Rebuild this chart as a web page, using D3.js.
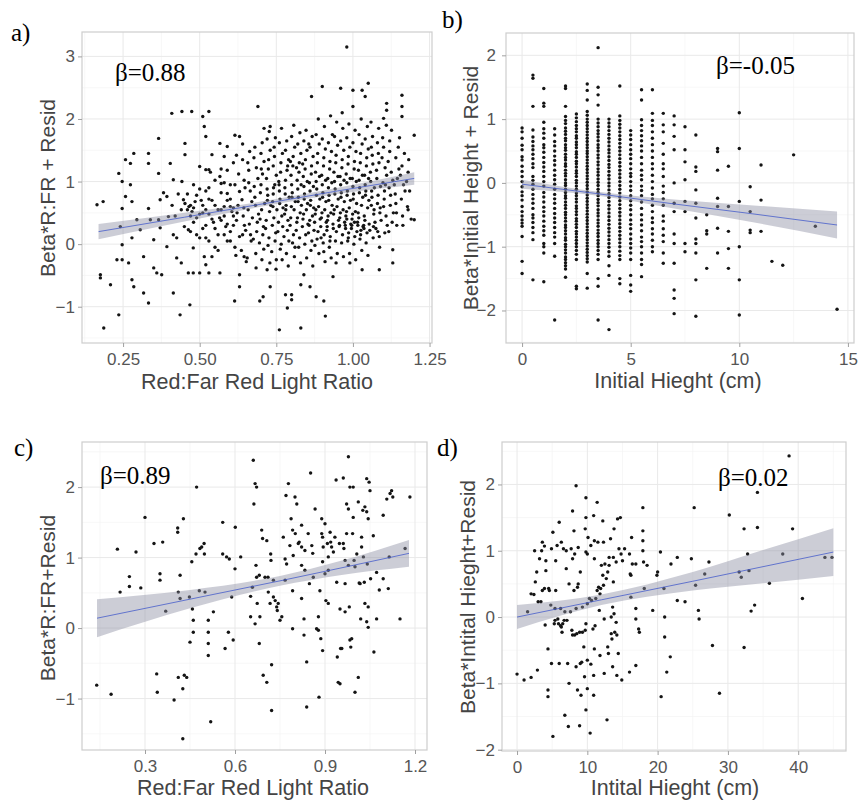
<!DOCTYPE html>
<html>
<head>
<meta charset="utf-8">
<script src="https://cdn.jsdelivr.net/npm/d3@7"></script>
<style>
  body { margin: 0; background: #fff; }
  svg { display: block; }
  .tick text { font-family: Arial, "Liberation Sans", sans-serif; }
</style>
</head>
<body>
<svg id="chart" width="862" height="803"></svg>
<script>
// ---- a) R:FR ratio vs partial residual (values read off the picture)
var aPts = [
  [0.165,0.63],[0.185,0.68],[0.176,-0.49],[0.176,-0.54],[0.209,-0.65],[0.187,-1.34],[0.236,-1.13],[0.23,-0.25],
  [0.247,-0.25],[0.268,-0.3],[0.236,1.13],[0.247,1.0],[0.258,1.35],[0.285,1.45],[0.274,1.29],[0.274,0.95],
  [0.258,0.76],[0.279,0.68],[0.247,0.57],[0.241,0.28],[0.247,-0.01],[0.279,0.1],[0.306,0.23],[0.295,0.39],
  [0.317,-0.2],[0.279,-0.57],[0.285,-0.68],[0.317,-0.78],[0.333,-0.94],[0.35,-0.38],[0.36,-0.46],[0.376,-0.49],
  [0.333,1.45],[0.333,1.29],[0.333,0.57],[0.339,0.39],[0.35,0.07],[0.366,1.69],[0.366,1.13],[0.371,0.71],
  [0.366,0.39],[0.371,0.26],[0.382,0.82],[0.393,0.76],[0.398,0.44],[0.404,1.29],[0.409,2.09],[0.414,0.15],
  [0.393,-0.04],[0.414,-0.78],[0.425,-0.22],[0.436,-1.13],[0.442,2.12],[0.452,1.61],[0.452,1.43],[0.414,1.03],
  [0.442,1.0],[0.447,0.71],[0.452,0.65],[0.463,0.23],[0.468,-0.97],[0.474,2.12],[0.463,-0.46],[0.479,-0.06],
  [0.479,-0.46],[0.5,-0.46],[0.51,2.04],[0.515,1.88],[0.52,1.72],[0.5,1.24],[0.52,1.19],[0.53,1.19],
  [0.53,2.12],[0.515,-0.2],[0.52,-0.33],[0.53,-0.46],[0.566,-0.46],[0.566,1.61],[0.54,1.43],[0.566,1.08],
  [0.57,0.97],[0.58,1.4],[0.59,1.56],[0.59,0.81],[0.6,0.6],[0.615,1.74],[0.63,1.72],[0.614,-0.91],
  [0.63,-0.49],[0.63,-0.68],[0.64,0.15],[0.645,-0.2],[0.69,2.2],[0.696,-0.91],[0.707,-0.84],[0.71,1.85],
  [0.73,1.88],[0.73,-0.68],[0.72,-0.41],[0.75,-0.25],[0.76,-1.37],[0.78,-0.81],[0.786,-1.02],[0.8,-0.81],
  [0.8,-0.89],[0.83,-1.34],[0.83,-0.65],[0.86,-0.68],[0.865,2.36],[0.84,-0.49],[0.88,-0.84],[0.905,-0.91],
  [0.91,-1.15],[0.9,2.52],[0.935,-0.52],[0.96,2.49],[0.98,3.15],[1.0,2.46],[1.03,2.46],[1.05,2.57],
  [1.04,2.36],[0.99,-0.3],[1.03,-0.41],[1.086,-0.41],[1.13,-0.3],[1.13,-0.09],[1.16,2.38],[1.16,2.2],
  [1.16,2.04],[1.2,1.74],[1.18,0.55],[1.2,0.39],[1.1,2.01],[1.11,2.25],[1.11,2.14],
  [0.46,0.55],[0.47,0.62],[0.48,0.35],[0.49,0.78],[0.5,0.48],[0.47,0.2],[0.48,0.95],[0.5,0.1],
  [0.51,0.62],[0.52,0.3],[0.52,0.85],[0.53,0.48],[0.53,0.05],[0.54,0.7],[0.55,0.25],[0.55,1.02],
  [0.56,0.55],[0.56,-0.1],[0.57,0.38],[0.57,0.82],[0.58,0.15],[0.58,0.6],[0.59,1.18],[0.59,0.32],
  [0.6,0.05],[0.6,0.72],[0.61,0.45],[0.61,1.3],[0.48,0.58],[0.49,0.42],[0.5,0.88],[0.51,0.25],
  [0.52,0.55],[0.53,0.72],[0.54,0.4],[0.54,-0.2],[0.55,0.62],[0.56,0.15],[0.57,1.2],[0.58,0.45],
  [0.59,0.7],[0.6,0.2],[0.6,0.95],[0.61,0.58],[0.46,0.8],[0.47,0.45],[0.49,0.15],[0.51,0.5],
  [0.53,0.9],[0.55,-0.05],[0.57,0.55],[0.58,0.98],[0.59,0.05],[0.61,0.3],[0.475,0.52],[0.465,0.6],
  [0.485,0.68],[0.505,0.7],[0.52,0.1],[0.535,1.15],[0.545,0.35],[0.565,0.42],[0.585,0.28],[0.605,0.52],
  [0.44,0.55],[0.45,0.28],[0.43,0.8],[0.42,0.45],[0.41,0.62],[0.44,-0.3],[0.425,0.1],
  [0.62,1.42],[0.615,0.95],[0.625,0.62],[0.62,0.38],[0.63,0.12],[0.618,-0.18],[0.627,1.12],[0.622,0.5],[0.63,0.84],[0.615,-0.05],
  [0.64,1.35],[0.645,1.02],[0.638,0.71],[0.642,0.45],[0.65,0.22],[0.636,-0.1],[0.644,0.58],[0.648,0.9],[0.64,1.6],[0.652,-0.28],[0.646,0.3],
  [0.66,1.18],[0.665,0.85],[0.658,0.55],[0.662,0.32],[0.668,0.05],[0.655,-0.22],[0.663,1.48],[0.67,0.68],[0.66,0.98],[0.672,0.42],[0.657,1.3],[0.666,0.15],
  [0.68,1.55],[0.685,1.22],[0.678,0.92],[0.682,0.62],[0.688,0.35],[0.675,0.08],[0.683,-0.15],[0.69,1.05],[0.68,0.75],[0.692,0.48],[0.677,1.38],[0.686,0.2],[0.684,-0.38],
  [0.7,1.45],[0.705,1.12],[0.698,0.82],[0.702,0.55],[0.708,0.28],[0.695,0.02],[0.703,-0.25],[0.71,1.32],[0.7,0.95],[0.712,0.65],[0.697,0.4],[0.706,0.15],[0.704,1.62],[0.709,-0.08],[0.701,1.2],
  [0.72,1.68],[0.725,1.35],[0.718,1.05],[0.722,0.78],[0.728,0.52],[0.715,0.25],[0.723,-0.02],[0.73,1.5],[0.72,0.88],[0.732,0.62],[0.717,0.38],[0.726,0.1],[0.724,1.2],[0.729,-0.3],[0.721,0.7],[0.727,1.8],
  [0.74,1.25],[0.745,0.95],[0.738,0.68],[0.742,0.42],[0.748,0.18],[0.735,-0.12],[0.743,1.55],[0.75,1.1],[0.74,0.8],[0.752,0.55],[0.737,0.3],[0.746,0.05],[0.744,1.4],[0.749,-0.4],[0.741,0.9],[0.747,1.7],[0.739,0.6],
  [0.76,1.62],[0.765,1.3],[0.758,1.0],[0.762,0.72],[0.768,0.45],[0.755,0.2],[0.763,-0.08],[0.77,1.45],[0.76,0.85],[0.772,0.58],[0.757,0.35],[0.766,0.0],[0.764,1.15],[0.769,-0.25],[0.761,0.65],[0.767,1.85],[0.759,0.95],[0.771,0.28],
  [0.78,1.5],[0.785,1.18],[0.778,0.9],[0.782,0.62],[0.788,0.38],[0.775,0.12],[0.783,-0.15],[0.79,1.35],[0.78,1.02],[0.792,0.75],[0.777,0.48],[0.786,0.22],[0.784,1.65],[0.789,-0.35],[0.781,0.55],[0.787,1.25],[0.779,0.8],[0.791,0.05],
  [0.8,1.72],[0.805,1.4],[0.798,1.1],[0.802,0.82],[0.808,0.55],[0.795,0.3],[0.803,0.02],[0.81,1.55],[0.8,0.95],[0.812,0.68],[0.797,0.42],[0.806,0.15],[0.804,1.25],[0.809,-0.2],[0.801,0.75],[0.807,1.9],[0.799,0.6],[0.811,-0.05],[0.796,1.32],
  [0.82,1.6],[0.825,1.3],[0.818,1.02],[0.822,0.75],[0.828,0.5],[0.815,0.22],[0.823,-0.05],[0.83,1.45],[0.82,0.88],[0.832,0.62],[0.817,0.35],[0.826,0.1],[0.824,1.15],[0.829,-0.3],[0.821,0.68],[0.827,1.78],[0.819,0.42],[0.831,0.95],[0.816,1.22],
  [0.84,1.65],[0.845,1.35],[0.838,1.08],[0.842,0.8],[0.848,0.55],[0.835,0.28],[0.843,0.0],[0.85,1.5],[0.84,0.92],[0.852,0.65],[0.837,0.4],[0.846,0.15],[0.844,1.2],[0.849,-0.22],[0.841,0.72],[0.847,1.82],[0.839,0.48],[0.851,1.0],[0.836,1.28],[0.853,0.32],
  [0.86,1.55],[0.865,1.25],[0.858,0.98],[0.862,0.7],[0.868,0.45],[0.855,0.18],[0.863,-0.1],[0.87,1.4],[0.86,0.85],[0.872,0.58],[0.857,0.3],[0.866,0.05],[0.864,1.12],[0.869,-0.35],[0.861,0.62],[0.867,1.72],[0.859,0.38],[0.871,0.92],[0.856,1.6],[0.873,0.22],
  [0.88,1.75],[0.885,1.45],[0.878,1.15],[0.882,0.88],[0.888,0.6],[0.875,0.35],[0.883,0.08],[0.89,1.6],[0.88,1.0],[0.892,0.72],[0.877,0.48],[0.886,0.2],[0.884,1.3],[0.889,-0.15],[0.881,0.78],[0.887,2.0],[0.879,0.55],[0.891,1.08],[0.876,-0.02],[0.893,0.4],
  [0.9,1.68],[0.905,1.38],[0.898,1.1],[0.902,0.82],[0.908,0.55],[0.895,0.28],[0.903,0.02],[0.91,1.52],[0.9,0.95],[0.912,0.68],[0.897,0.42],[0.906,0.15],[0.904,1.25],[0.909,-0.28],[0.901,0.75],[0.907,1.88],[0.899,0.5],[0.911,1.02],[0.896,0.1],[0.913,0.35],[0.905,-0.12],
  [0.92,1.62],[0.925,1.32],[0.918,1.05],[0.922,0.78],[0.928,0.5],[0.915,0.22],[0.923,-0.05],[0.93,1.48],[0.92,0.9],[0.932,0.62],[0.917,0.38],[0.926,0.12],[0.924,1.2],[0.929,-0.22],[0.921,0.7],[0.927,2.05],[0.919,0.45],[0.931,0.98],[0.916,0.28],[0.933,1.75],[0.925,0.05],
  [0.94,1.72],[0.945,1.42],[0.938,1.15],[0.942,0.88],[0.948,0.6],[0.935,0.32],[0.943,0.05],[0.95,1.58],[0.94,1.0],[0.952,0.72],[0.937,0.48],[0.946,0.2],[0.944,1.3],[0.949,-0.15],[0.941,0.8],[0.947,1.95],[0.939,0.55],[0.951,1.08],[0.936,0.25],[0.953,0.38],[0.945,-0.3],
  [0.96,1.65],[0.965,1.35],[0.958,1.08],[0.962,0.82],[0.968,0.55],[0.955,0.28],[0.963,0.02],[0.97,1.5],[0.96,0.95],[0.972,0.68],[0.957,0.42],[0.966,0.15],[0.964,1.22],[0.969,-0.2],[0.961,0.75],[0.967,1.85],[0.959,0.5],[0.971,1.02],[0.956,0.3],[0.973,0.35],[0.965,2.1],
  [0.98,1.7],[0.985,1.4],[0.978,1.12],[0.982,0.85],[0.988,0.58],[0.975,0.3],[0.983,0.05],[0.99,1.55],[0.98,0.98],[0.992,0.7],[0.977,0.45],[0.986,0.18],[0.984,1.28],[0.989,-0.15],[0.981,0.78],[0.987,1.92],[0.979,0.52],[0.991,1.05],[0.976,0.25],[0.993,0.32],[0.985,0.1],[0.98,0.4],
  [1.0,1.62],[1.005,1.32],[0.998,1.05],[1.002,0.8],[1.008,0.52],[0.995,0.25],[1.003,0.0],[1.01,1.48],[1.0,0.92],[1.012,0.65],[0.997,0.4],[1.006,0.12],[1.004,1.2],[1.009,-0.25],[1.001,0.72],[1.007,1.82],[0.999,0.48],[1.011,1.0],[0.996,0.3],[1.013,0.2],[1.005,0.35],[1.0,2.2],
  [1.02,1.75],[1.025,1.45],[1.018,1.18],[1.022,0.9],[1.028,0.62],[1.015,0.35],[1.023,0.08],[1.03,1.6],[1.02,1.02],[1.032,0.75],[1.017,0.5],[1.026,0.22],[1.024,1.3],[1.029,-0.1],[1.021,0.82],[1.027,2.0],[1.019,0.42],[1.031,1.1],[1.016,0.3],[1.033,0.28],[1.025,0.15],
  [1.04,1.68],[1.045,1.38],[1.038,1.1],[1.042,0.85],[1.048,0.58],[1.035,0.3],[1.043,0.02],[1.05,1.52],[1.04,0.95],[1.052,0.7],[1.037,0.45],[1.046,0.18],[1.044,1.25],[1.049,-0.18],[1.041,0.78],[1.047,1.88],[1.039,0.38],[1.051,1.05],[1.036,0.25],[1.053,0.32],
  [1.06,1.55],[1.065,1.28],[1.058,1.0],[1.062,0.75],[1.068,0.48],[1.055,0.22],[1.063,1.42],[1.07,0.9],[1.06,0.62],[1.072,0.35],[1.057,1.15],[1.066,0.1],[1.064,1.72],[1.069,0.55],[1.061,0.85],[1.067,0.28],[1.059,1.95],
  [1.08,1.62],[1.085,1.3],[1.078,1.05],[1.082,0.78],[1.088,0.5],[1.075,0.25],[1.083,1.45],[1.09,0.92],[1.08,0.65],[1.092,0.38],[1.077,1.18],[1.086,0.12],[1.084,1.85],[1.089,0.58],[1.081,0.2],[1.087,-0.05],
  [1.1,1.55],[1.105,1.22],[1.098,0.98],[1.102,0.72],[1.108,0.45],[1.095,1.38],[1.103,0.85],[1.11,1.1],[1.1,0.6],[1.112,0.3],[1.097,1.7],[1.106,0.95],[1.104,0.18],[1.109,1.9],
  [1.12,1.48],[1.125,1.15],[1.118,0.9],[1.122,0.62],[1.128,0.35],[1.115,1.32],[1.123,0.78],[1.13,1.02],[1.12,1.65],[1.132,0.5],[1.117,0.2],[1.126,1.82],
  [1.14,1.38],[1.145,1.05],[1.138,0.8],[1.142,0.5],[1.148,1.55],[1.135,0.95],[1.143,0.3],[1.15,1.2],[1.14,0.65],[1.152,1.7],
  [1.16,1.25],[1.165,0.95],[1.158,0.72],[1.162,0.45],[1.168,1.45],[1.155,1.1],[1.163,0.3],[1.17,0.85],
  [1.18,1.15],[1.185,0.85],[1.178,0.6],[1.182,1.35],[1.19,0.4],[1.175,1.0]
];
var aFitX = [0.17, 0.45, 0.75, 0.95, 1.2];
var aFitY = [0.2, 0.43, 0.68, 0.85, 1.05];
var aFitSE = [0.12, 0.07, 0.04, 0.05, 0.1];

// ---- b) initial height (0.5 cm classes) vs partial residual
var bHeights = [0,0.5,1,1.5,2,2.5,3,3.5,4,4.5,5,5.5,6,6.5,7,7.5,8,8.5,9,9.5,10,10.5,11,11.5,12,12.5,13.5,14.5];
var bResid = [
  [0.86,0.8,0.7,0.59,0.52,0.41,0.36,0.26,0.18,0.1,0.02,-0.06,-0.14,-0.2,-0.27,-0.37,-0.45,-0.52,-0.58,-0.63,-0.68,-0.84,-1.23,-1.42],
  [1.69,1.64,1.2,0.83,0.72,0.65,0.58,0.52,0.45,0.38,0.3,0.24,0.1,0.04,-0.02,-0.1,-0.18,-0.25,-0.32,-0.4,-0.5,-0.55,-0.62,-0.7,-0.78,-0.89,-1.52],
  [1.48,1.25,1.2,0.95,0.85,0.78,0.7,0.6,0.55,0.48,0.4,0.32,0.25,0.18,0.1,0.02,-0.05,-0.15,-0.22,-0.3,-0.38,-0.45,-0.52,-0.6,-0.68,-0.75,-0.82,-0.95,-1.0,-1.1,-1.55],
  [0.85,0.75,0.65,0.58,0.5,0.42,0.35,0.28,0.2,0.12,0.05,-0.02,-0.1,-0.18,-0.25,-0.32,-0.4,-0.48,-0.55,-0.62,-0.7,-0.78,-0.85,-0.95,-1.15,-2.15],
  [1.52,1.48,1.2,1.04,0.98,0.93,0.86,0.81,0.76,0.7,0.66,0.6,0.55,0.51,0.45,0.4,0.36,0.3,0.26,0.2,0.15,0.11,0.05,0.0,-0.04,-0.1,-0.15,-0.2,-0.24,-0.3,-0.35,-0.4,-0.46,-0.5,-0.55,-0.6,-0.66,-0.7,-0.75,-0.8,-0.86,-0.9,-0.96,-1.0,-1.05,-1.1,-1.16,-1.2,-1.25,-1.3,-1.35,-1.48],
  [1.08,1.02,0.96,0.9,0.85,0.8,0.74,0.7,0.64,0.6,0.55,0.49,0.45,0.4,0.34,0.3,0.25,0.19,0.15,0.1,0.04,0.0,-0.05,-0.1,-0.16,-0.2,-0.25,-0.3,-0.36,-0.4,-0.45,-0.5,-0.56,-0.6,-0.65,-0.7,-0.76,-0.8,-0.85,-0.9,-0.95,-1.0,-1.06,-1.12,-1.2,-1.62,-1.66],
  [1.55,1.45,1.3,1.12,1.06,1.0,0.95,0.9,0.85,0.8,0.75,0.7,0.65,0.6,0.55,0.5,0.46,0.41,0.36,0.31,0.26,0.21,0.16,0.11,0.06,0.01,-0.04,-0.09,-0.14,-0.19,-0.24,-0.29,-0.34,-0.39,-0.44,-0.49,-0.54,-0.59,-0.64,-0.69,-0.74,-0.79,-0.84,-0.89,-0.94,-0.99,-1.04,-1.09,-1.14,-1.19,-1.24,-1.42,-1.65],
  [2.12,1.5,1.38,1.22,1.0,0.94,0.88,0.82,0.77,0.72,0.66,0.6,0.55,0.5,0.44,0.39,0.33,0.28,0.22,0.17,0.12,0.06,0.01,-0.04,-0.1,-0.15,-0.2,-0.26,-0.31,-0.36,-0.42,-0.47,-0.52,-0.58,-0.63,-0.68,-0.74,-0.79,-0.84,-0.9,-0.95,-1.0,-1.06,-1.12,-1.2,-1.5,-1.62,-2.15],
  [1.0,0.94,0.88,0.82,0.76,0.7,0.64,0.58,0.52,0.47,0.41,0.35,0.29,0.24,0.18,0.12,0.06,0.0,-0.05,-0.11,-0.17,-0.23,-0.29,-0.35,-0.41,-0.47,-0.53,-0.59,-0.65,-0.71,-0.77,-0.83,-0.89,-0.95,-1.01,-1.08,-1.15,-1.3,-1.45,-2.3],
  [1.52,1.05,0.98,0.92,0.86,0.8,0.74,0.68,0.62,0.56,0.5,0.44,0.38,0.32,0.26,0.2,0.14,0.08,0.02,-0.04,-0.1,-0.16,-0.22,-0.28,-0.34,-0.4,-0.46,-0.52,-0.58,-0.64,-0.7,-0.76,-0.82,-0.88,-0.94,-1.0,-1.07,-1.14,-1.2,-1.5,-1.58],
  [0.82,0.75,0.68,0.6,0.52,0.45,0.38,0.3,0.22,0.15,0.1,0.02,-0.05,-0.12,-0.2,-0.28,-0.35,-0.42,-0.5,-0.58,-0.65,-0.72,-0.8,-0.88,-0.95,-1.02,-1.1,-1.2,-1.45,-1.6,-1.7],
  [1.46,1.3,0.99,0.9,0.82,0.74,0.66,0.58,0.5,0.4,0.3,0.2,0.12,0.05,-0.05,-0.12,-0.2,-0.3,-0.4,-0.5,-0.58,-0.66,-0.75,-0.85,-0.92,-1.0,-1.1,-1.2,-1.28,-1.47],
  [1.46,1.09,0.98,0.9,0.8,0.7,0.6,0.5,0.4,0.3,0.22,0.12,0.02,-0.08,-0.18,-0.25,-0.35,-0.45,-0.55,-0.62,-0.72,-0.8,-0.9,-1.0,-1.08],
  [1.09,0.91,0.8,0.62,0.45,0.3,0.22,0.1,-0.05,-0.15,-0.25,-0.35,-0.52,-0.6,-0.72,-0.82,-0.92,-1.1,-1.26],
  [1.05,0.91,0.73,0.52,0.0,-0.32,-0.45,-0.8,-0.95,-1.26,-1.68,-1.81,-2.05],
  [0.88,0.52,0.33,0.05,-0.29,-0.45,-0.95,-1.08],
  [0.75,0.25,0.18,-0.11,-0.32,-0.55,-0.88,-0.95,-1.1,-1.52,-2.09],
  [-0.5,-0.75,-0.8,-1.34],
  [0.54,0.49,0.2,-0.24,-0.37,-0.71,-1.1],
  [0.26,-0.37,-0.76,-1.03,-1.34],
  [1.1,0.54,-0.29,-1.0,-1.52,-2.07],
  [-0.06,-0.45,-0.74,-0.78],
  [0.28,-0.27,-0.76],
  [-1.23],
  [-1.29],
  [0.44],
  [-0.68],
  [-1.98]
];
var bFitX = [0, 3.5, 7, 10.5, 14.5];
var bFitY = [-0.02, -0.17, -0.33, -0.48, -0.66];
var bFitSE = [0.07, 0.03, 0.07, 0.13, 0.21];

// ---- c) second data set, R:FR ratio
var cPts = [
  [0.139,-0.81],[0.187,-0.94],[0.208,1.12],[0.217,0.51],[0.248,0.73],[0.248,0.59],[0.27,1.08],[0.286,0.57],
  [0.3,1.57],[0.33,1.2],[0.339,-0.65],[0.341,-0.91],[0.35,0.77],[0.35,0.68],[0.359,1.22],[0.369,0.24],
  [0.397,-1.02],[0.409,1.42],[0.409,1.36],[0.411,-0.7],[0.417,0.75],[0.411,0.51],[0.417,0.42],[0.426,-0.86],
  [0.428,1.55],[0.426,-1.57],[0.431,-0.67],[0.439,-0.7],[0.448,0.44],[0.45,-0.2],[0.456,0.94],[0.458,0.27],
  [0.461,0.11],[0.461,-0.06],[0.47,1.05],[0.472,2.0],[0.481,0.53],[0.483,1.13],[0.489,1.15],[0.497,1.2],
  [0.498,1.05],[0.5,0.51],[0.511,0.11],[0.511,-0.06],[0.511,-0.22],[0.511,-0.39],[0.519,-1.33],[0.528,0.23],
  [0.559,1.5],[0.559,1.05],[0.567,-0.29],[0.572,1.01],[0.581,0.98],[0.578,-0.06],[0.589,0.44],[0.594,-0.17],
  [0.6,0.84],[0.601,1.43],[0.619,1.01],[0.652,0.45],[0.652,0.16],[0.658,0.58],[0.661,2.38],[0.663,1.76],
  [0.667,0.06],[0.667,2.05],[0.672,2.0],[0.67,0.89],[0.672,0.72],[0.674,0.35],[0.681,0.75],[0.681,-0.22],
  [0.683,0.16],[0.689,1.39],[0.692,1.27],[0.694,-0.67],[0.7,0.72],[0.706,1.24],[0.706,-0.77],[0.71,0.72],
  [0.711,0.51],[0.717,0.35],[0.719,1.05],[0.72,0.96],[0.722,-0.52],[0.722,-1.17],[0.728,0.68],[0.728,0.44],
  [0.734,0.39],[0.739,0.3],[0.741,0.25],[0.744,0.35],[0.75,0.11],[0.756,0.16],[0.761,1.29],[0.767,0.98],
  [0.767,0.68],[0.77,1.88],[0.772,0.91],[0.778,2.05],[0.783,1.17],[0.787,1.55],[0.792,1.39],[0.792,0.53],
  [0.792,-0.01],[0.794,1.03],[0.8,1.86],[0.801,1.34],[0.806,1.76],[0.811,1.2],[0.814,1.22],[0.822,1.15],
  [0.822,0.89],[0.822,0.42],[0.822,1.46],[0.83,0.13],[0.83,-0.1],[0.833,1.1],[0.833,0.82],[0.839,-0.48],
  [0.839,-1.12],[0.844,1.34],[0.848,0.63],[0.852,2.2],[0.856,1.17],[0.859,1.06],[0.861,0.72],[0.867,1.69],
  [0.872,-0.01],[0.878,0.16],[0.878,-0.03],[0.88,-0.98],[0.883,0.53],[0.886,-0.15],[0.889,1.55],[0.889,1.34],
  [0.892,1.29],[0.892,0.94],[0.892,-0.32],[0.894,1.15],[0.9,0.77],[0.9,1.48],[0.903,0.39],[0.908,1.2],
  [0.911,1.01],[0.911,0.82],[0.911,0.35],[0.917,1.36],[0.919,1.22],[0.922,1.15],[0.928,1.08],[0.933,1.29],
  [0.937,2.1],[0.939,0.65],[0.941,-0.41],[0.944,-0.77],[0.95,-0.79],[0.948,1.2],[0.95,0.27],[0.952,-0.29],
  [0.956,-0.29],[0.961,2.13],[0.961,1.2],[0.963,1.13],[0.967,0.96],[0.967,0.63],[0.967,0.23],[0.972,1.76],
  [0.972,1.34],[0.978,2.43],[0.978,1.69],[0.978,0.89],[0.981,0.3],[0.983,2.0],[0.983,-0.17],[0.986,-0.27],
  [0.989,-0.15],[0.992,1.34],[0.994,2.0],[0.994,1.57],[0.997,0.96],[1.0,0.87],[1.0,-0.91],[1.006,1.05],
  [1.011,-0.7],[1.011,1.79],[1.014,0.64],[1.017,0.63],[1.019,0.13],[1.022,1.15],[1.022,1.29],[1.026,1.67],
  [1.028,1.01],[1.031,0.65],[1.033,1.72],[1.033,0.35],[1.039,2.12],[1.039,0.09],[1.039,1.65],[1.041,0.91],
  [1.044,1.55],[1.044,0.3],[1.044,0.01],[1.047,2.07],[1.05,1.95],[1.052,0.7],[1.061,1.31],[1.063,-0.34],
  [1.072,0.79],[1.072,0.13],[1.081,0.54],[1.094,1.6],[1.094,0.7],[1.106,1.83],[1.111,0.56],[1.114,1.01],
  [1.117,1.91],[1.122,1.95],[1.126,1.86],[1.15,0.13],[1.167,1.13],[1.183,1.86]
];
var cFitX = [0.14, 0.45, 0.75, 0.95, 1.18];
var cFitY = [0.14, 0.41, 0.67, 0.85, 1.06];
var cFitSE = [0.27, 0.13, 0.07, 0.1, 0.19];

// ---- d) second data set, initial height
var dPts = [
  [0,-0.86],[1.0,-0.95],[1.5,0.08],[2.0,-0.91],[2.0,0.35],[2.4,0.34],[2.5,1.0],[2.6,0.53],[2.8,0.68],[2.9,-0.8],
  [3.0,0.23],[3.2,0.88],[3.4,0.23],[3.5,1.0],[3.6,1.13],[3.6,0.4],[3.9,1.07],[3.9,0.43],[4.0,-0.12],[4.1,0.85],
  [4.1,0.7],[4.4,-0.48],[4.4,-1.1],[4.4,-1.2],[4.5,0.43],[4.6,0.4],[4.8,0.18],[4.9,1.03],[5.1,1.28],[4.9,-0.7],
  [5.1,-1.8],[5.3,-0.1],[5.4,0.13],[5.4,-0.05],[5.5,0.4],[5.5,0.85],[5.7,1.08],[5.8,-0.03],[5.9,-0.1],[6.0,-0.7],
  [6.0,1.43],[6.2,0.13],[6.2,-0.13],[6.3,1.13],[6.3,-0.15],[6.4,-0.23],[6.5,-0.1],[6.6,1.03],[6.7,-0.05],[6.8,0.08],
  [6.8,-1.48],[7.0,1.0],[7.0,0.73],[7.1,-0.05],[7.2,-0.7],[7.3,-1.65],[7.4,-1.0],[7.4,0.5],[7.6,0.08],[7.7,1.03],
  [7.8,-0.2],[7.9,1.6],[7.9,0.88],[7.9,-0.27],[8.1,1.3],[8.1,0.4],[8.2,0.95],[8.2,-0.27],[8.4,1.98],[8.4,0.13],
  [8.4,-0.75],[8.5,-0.25],[8.6,0.45],[8.6,-1.1],[8.7,1.05],[8.7,0.5],[8.9,-0.23],[8.9,-1.64],[9.0,-0.7],[9.0,0.68],
  [9.1,-1.18],[9.2,-0.68],[9.3,-0.23],[9.3,0.15],[9.5,-0.45],[9.6,-0.9],[9.7,1.33],[9.7,-0.2],[9.8,1.8],[9.8,1.5],
  [9.8,0.98],[9.8,-1.4],[9.8,-0.1],[10.0,0.2],[10.0,-1.08],[10.0,0.95],[10.0,-0.65],[10.1,1.2],[10.3,0.28],[10.4,-1.75],
  [10.5,-0.71],[10.5,1.08],[10.6,0.25],[10.8,-0.18],[10.9,-0.88],[10.9,1.53],[10.9,-1.18],[11.0,-0.48],[11.0,0.88],[11.0,1.15],
  [11.1,-0.13],[11.2,0.28],[11.4,1.73],[11.4,0.4],[11.5,1.13],[11.6,0.45],[11.7,0.1],[11.8,-0.58],[11.8,0.35],[11.9,0.43],
  [12.0,0.78],[12.2,0.63],[12.2,1.45],[12.3,1.13],[12.3,0.48],[12.4,-0.03],[12.4,-0.85],[12.5,0.8],[12.7,0.58],[12.8,-1.55],
  [12.9,0.68],[12.9,-0.45],[13.0,-0.55],[13.1,0.9],[13.1,0.78],[13.3,1.18],[13.4,0],[13.4,-0.25],[13.5,-0.33],[13.6,0.15],
  [13.6,-0.75],[13.7,0.53],[13.7,0.9],[13.8,1.33],[13.8,0.05],[13.9,-0.23],[14.1,0.83],[14.1,-0.08],[14.2,-0.88],[14.2,-0.27],
  [14.3,1.48],[14.4,-0.55],[14.5,1.03],[14.7,1.5],[14.8,0.95],[14.9,-0.95],[15.0,0.85],[15.3,1.03],[16.0,-0.83],[16.0,0.95],
  [16.1,0.65],[16.2,0.63],[16.3,1.2],[16.2,0.3],[16.4,0.8],[16.9,0.13],[16.9,-0.03],[16.9,-0.73],[16.9,0.8],[17.3,-0.18],
  [17.4,-0.23],[17.9,1.65],[17.9,1.3],[17.9,1.15],[17.9,1.0],[18.0,0.83],[18.1,0.43],[18.5,0.78],[19.3,0.1],[19.9,0.63],
  [20.0,0.68],[20.4,0.98],[20.5,-1.2],[20.9,0.43],[21.0,0],[21.0,-0.3],[21.3,-0.83],[21.8,-0.6],[21.9,0.8],[22.8,0.9],
  [22.8,0.25],[23.9,0.23],[24.8,0.88],[25.2,1.65],[25.4,0.48],[25.8,0.1],[25.9,-0.03],[26.7,0.65],[27.3,0.83],[27.8,-0.43],
  [28.8,-1.15],[30.2,1.54],[31.6,0.68],[31.9,0.6],[32.3,-0.46],[32.3,1.33],[32.8,0.95],[33.0,0.7],[33.3,0.09],[33.8,0.18],
  [34.2,1.35],[34.2,1.88],[35.9,0.51],[37.8,0.95],[38.7,2.43],[39.2,1.33],[40.6,0.28],[43.8,0.9],[44.8,0.9]
];
var dFitX = [0, 12, 25, 35, 45];
var dFitY = [0, 0.26, 0.54, 0.76, 0.98];
var dFitSE = [0.18, 0.08, 0.14, 0.25, 0.36];

// ---- tick values and labels
var aTicksX = [0.25, 0.5, 0.75, 1.0, 1.25], aTickLabelsX = ['0.25', '0.50', '0.75', '1.00', '1.25'];
var aTicksY = [-1, 0, 1, 2, 3];
var bTicksX = [0, 5, 10, 15], bTicksY = [-2, -1, 0, 1, 2];
var cTicksX = [0.3, 0.6, 0.9, 1.2], cTicksY = [-1, 0, 1, 2];
var dTicksX = [0, 10, 20, 30, 40], dTicksY = [-2, -1, 0, 1, 2];

var svg = d3.select('#chart');
var sans = 'Arial, "Liberation Sans", sans-serif',
  serif = '"Times New Roman", "Liberation Serif", serif';

function pairs(xs, ys, se) {
  return xs.map(function(x, i) {
    return { x: x, y: ys[i], se: se[i] };
  });
}

function drawPanel(p) {
  var x = d3.scaleLinear().domain(p.xDomain).range([p.left, p.right]);
  var y = d3.scaleLinear().domain(p.yDomain).range([p.bottom, p.top]);
  var g = svg.append('g');

  // minor + major grid
  var grid = g.append('g');
  grid.selectAll('.mx').data(p.xMinor).enter().append('line')
    .attr('x1', function(d) { return x(d); }).attr('x2', function(d) { return x(d); })
    .attr('y1', p.top).attr('y2', p.bottom)
    .attr('stroke', '#f4f4f4').attr('stroke-width', 0.7);
  grid.selectAll('.my').data(p.yMinor).enter().append('line')
    .attr('y1', function(d) { return y(d); }).attr('y2', function(d) { return y(d); })
    .attr('x1', p.left).attr('x2', p.right)
    .attr('stroke', '#f4f4f4').attr('stroke-width', 0.7);
  grid.selectAll('.gx').data(p.xTicks).enter().append('line')
    .attr('x1', function(d) { return x(d); }).attr('x2', function(d) { return x(d); })
    .attr('y1', p.top).attr('y2', p.bottom)
    .attr('stroke', '#e9e9e9').attr('stroke-width', 1);
  grid.selectAll('.gy').data(p.yTicks).enter().append('line')
    .attr('y1', function(d) { return y(d); }).attr('y2', function(d) { return y(d); })
    .attr('x1', p.left).attr('x2', p.right)
    .attr('stroke', '#e9e9e9').attr('stroke-width', 1);

  // points
  g.append('g').selectAll('circle')
    .data(p.points)
    .enter()
    .append('circle')
    .attr('cx', function(d) { return x(d[0]); })
    .attr('cy', function(d) { return y(d[1]); })
    .attr('r', 1.7)
    .attr('fill', '#141414');

  // confidence band + fitted line
  var area = d3.area()
    .x(function(d) { return x(d.x); })
    .y0(function(d) { return y(d.y - d.se); })
    .y1(function(d) { return y(d.y + d.se); })
    .curve(d3.curveMonotoneX);
  g.append('path').datum(p.fit)
    .attr('d', area)
    .attr('fill', '#8d91a3')
    .attr('fill-opacity', 0.45);
  var line = d3.line()
    .x(function(d) { return x(d.x); })
    .y(function(d) { return y(d.y); });
  g.append('path').datum(p.fit)
    .attr('d', line)
    .attr('fill', 'none')
    .attr('stroke', '#3e55c9')
    .attr('stroke-opacity', 0.75)
    .attr('stroke-width', 1);

  // panel border
  g.append('rect')
    .attr('x', p.left).attr('y', p.top)
    .attr('width', p.right - p.left).attr('height', p.bottom - p.top)
    .attr('fill', 'none').attr('stroke', '#cdcdcd').attr('stroke-width', 1.2);

  // axes
  var xAxis = d3.axisBottom(x).tickValues(p.xTicks).tickSize(4).tickPadding(6)
    .tickFormat(function(d, i) { return p.xLabels ? p.xLabels[i] : d3.format('')(d); });
  var ax = g.append('g').attr('transform', 'translate(0,' + p.bottom + ')').call(xAxis);
  var yAxis = d3.axisLeft(y).tickValues(p.yTicks).tickSize(4)
    .tickPadding(p.left - p.yLabelRight - 4).tickFormat(d3.format(''));
  var ay = g.append('g').attr('transform', 'translate(' + p.left + ',0)').call(yAxis);
  [ax, ay].forEach(function(a) {
    a.select('.domain').remove();
    a.selectAll('.tick line').attr('stroke', '#a0a0a0');
    a.selectAll('.tick text').attr('fill', '#555').style('font-size', '17px');
  });

  // titles
  g.append('text')
    .attr('x', p.xTitlePos[0]).attr('y', p.xTitlePos[1])
    .attr('text-anchor', 'middle')
    .style('font-family', sans).style('font-size', '21.5px').attr('fill', '#444')
    .text(p.xTitle);
  g.append('text')
    .attr('transform', 'translate(' + p.yTitlePos[0] + ',' + p.yTitlePos[1] + ') rotate(-90)')
    .attr('text-anchor', 'middle')
    .style('font-family', sans).style('font-size', '21px').attr('fill', '#444')
    .text(p.yTitle);
  g.append('text')
    .attr('x', p.tagPos[0]).attr('y', p.tagPos[1])
    .style('font-family', serif).style('font-size', '25px').attr('fill', '#000')
    .text(p.tag);
  g.append('text')
    .attr('x', p.betaPos[0]).attr('y', p.betaPos[1])
    .style('font-family', serif).style('font-size', '25px').attr('fill', '#000')
    .text(p.beta);
}

drawPanel({
  left: 82, right: 432, top: 32, bottom: 343,
  xDomain: [0.116, 1.258], yDomain: [-1.58, 3.39],
  xTicks: aTicksX, xLabels: aTickLabelsX, yTicks: aTicksY,
  xMinor: [0.125, 0.375, 0.625, 0.875, 1.125], yMinor: [-1.5, -0.5, 0.5, 1.5, 2.5],
  yLabelRight: 75,
  points: aPts, fit: pairs(aFitX, aFitY, aFitSE),
  xTitle: 'Red:Far Red Light Ratio', xTitlePos: [257, 389],
  yTitle: 'Beta*R:FR + Resid', yTitlePos: [55, 188],
  tag: 'a)', tagPos: [11, 41], beta: 'β=0.88', betaPos: [115, 81]
});

drawPanel({
  left: 506, right: 854, top: 33, bottom: 343,
  xDomain: [-0.74, 15.28], yDomain: [-2.51, 2.35],
  xTicks: bTicksX, yTicks: bTicksY,
  xMinor: [2.5, 7.5, 12.5], yMinor: [-2.5, -1.5, -0.5, 0.5, 1.5],
  yLabelRight: 496,
  points: d3.merge(bHeights.map(function(h, i) {
    return bResid[i].map(function(r) { return [h, r]; });
  })),
  fit: pairs(bFitX, bFitY, bFitSE),
  xTitle: 'Initial Hieght (cm)', xTitlePos: [678, 388],
  yTitle: 'Beta*Initial Height + Resid', yTitlePos: [478, 188],
  tag: 'b)', tagPos: [442, 28], beta: 'β=-0.05', betaPos: [716, 74]
});

drawPanel({
  left: 82, right: 427, top: 442, bottom: 750,
  xDomain: [0.09, 1.24], yDomain: [-1.73, 2.64],
  xTicks: cTicksX, yTicks: cTicksY,
  xMinor: [0.15, 0.45, 0.75, 1.05], yMinor: [-1.5, -0.5, 0.5, 1.5, 2.5],
  yLabelRight: 75,
  points: cPts, fit: pairs(cFitX, cFitY, cFitSE),
  xTitle: 'Red:Far Red Light Ratio', xTitlePos: [253, 795],
  yTitle: 'Beta*R:FR+Resid', yTitlePos: [55, 598],
  tag: 'c)', tagPos: [14, 456], beta: 'β=0.89', betaPos: [100, 484]
});

drawPanel({
  left: 502, right: 846, top: 442, bottom: 751,
  xDomain: [-2.14, 46.8], yDomain: [-2.02, 2.64],
  xTicks: dTicksX, yTicks: dTicksY,
  xMinor: [5, 15, 25, 35, 45], yMinor: [-1.5, -0.5, 0.5, 1.5, 2.5],
  yLabelRight: 495,
  points: dPts, fit: pairs(dFitX, dFitY, dFitSE),
  xTitle: 'Intital Hieght (cm)', xTitlePos: [675, 795],
  yTitle: 'Beta*Intital Hieght+Resid', yTitlePos: [475, 597],
  tag: 'd)', tagPos: [437, 456], beta: 'β=0.02', betaPos: [718, 486]
});
</script>
</body>
</html>
